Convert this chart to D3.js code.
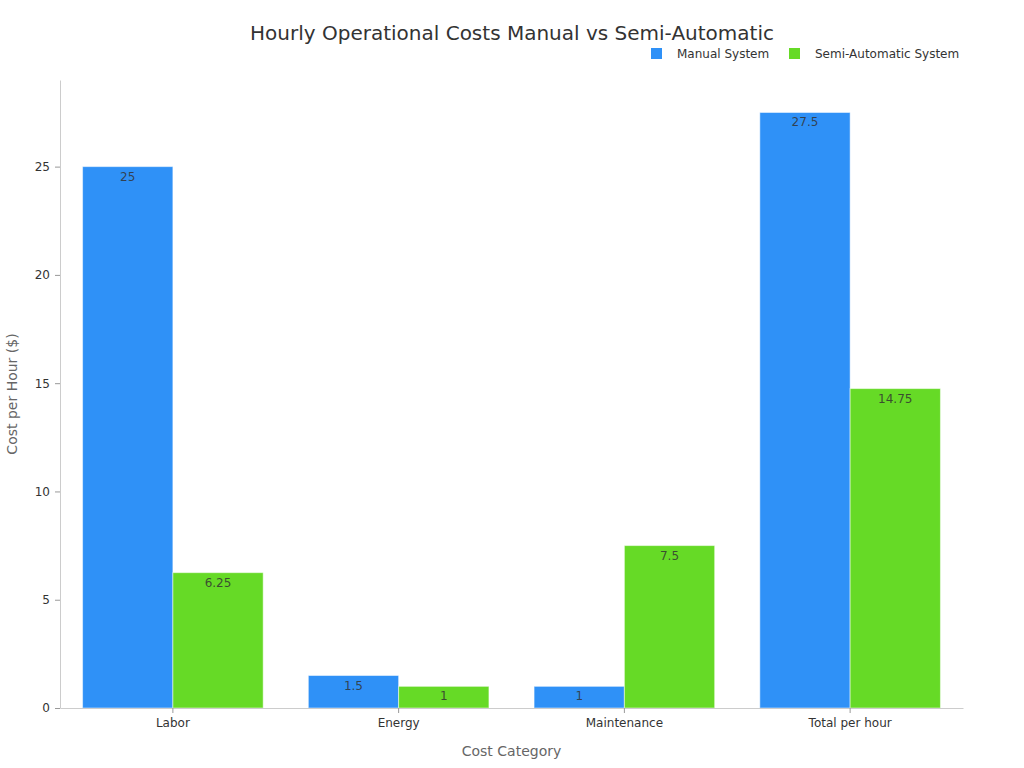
<!DOCTYPE html>
<html lang="en">
<head>
<meta charset="utf-8">
<title>Hourly Operational Costs Manual vs Semi-Automatic</title>
<script src="https://cdn.jsdelivr.net/npm/d3@7"></script>
<style>
  body { margin: 0; background: #fff; }
  text { font-family: "DejaVu Sans", sans-serif; }
</style>
</head>
<body>
<script>
const categories = ["Labor", "Energy", "Maintenance", "Total per hour"];
const seriesNames = ["Manual System", "Semi-Automatic System"];
const manualValues = [25, 1.5, 1, 27.5];
const semiValues = [6.25, 1, 7.5, 14.75];
const yTicks = [0, 5, 10, 15, 20, 25];
const colors = ["#2f91f7", "#66da26"];

const width = 1024, height = 768;
const margin = {top: 80, right: 61, bottom: 60, left: 60};

const rows = categories.map((c, i) => ({cat: c, vals: [manualValues[i], semiValues[i]]}));

const svg = d3.select("body").append("svg")
  .attr("width", width).attr("height", height);

const x = d3.scaleBand()
  .domain(categories)
  .range([margin.left, width - margin.right])
  .paddingInner(0.2)
  .paddingOuter(0.1);

const xSub = d3.scaleBand()
  .domain([0, 1])
  .range([0, x.bandwidth()]);

const y = d3.scaleLinear()
  .domain([0, 29])
  .range([height - margin.bottom, margin.top]);

// bars
const groups = svg.append("g").selectAll("g")
  .data(rows).enter().append("g")
  .attr("transform", d => "translate(" + x(d.cat) + ",0)");

groups.selectAll("rect")
  .data(d => d.vals.map((v, i) => ({v, i})))
  .enter().append("rect")
  .attr("x", d => xSub(d.i))
  .attr("y", d => y(d.v))
  .attr("width", xSub.bandwidth())
  .attr("height", d => y(0) - y(d.v))
  .attr("fill", d => colors[d.i])
  .attr("stroke", "rgba(255,255,255,0.5)")
  .attr("stroke-width", 1);

groups.selectAll("text")
  .data(d => d.vals.map((v, i) => ({v, i})))
  .enter().append("text")
  .attr("x", d => xSub(d.i) + xSub.bandwidth() / 2)
  .attr("y", d => y(d.v) + 14)
  .attr("text-anchor", "middle")
  .attr("font-size", "12px")
  .attr("fill", "#333")
  .attr("fill-opacity", 0.85)
  .text(d => d.v);

// axes
const xAxis = svg.append("g")
  .attr("transform", "translate(0," + y(0) + ")")
  .call(d3.axisBottom(x).tickSize(5).tickPadding(5).tickSizeOuter(0));
xAxis.select(".domain").attr("stroke", "#ccc");
xAxis.selectAll(".tick line").attr("stroke", "#999");
xAxis.selectAll(".tick text").attr("font-size", "12px").attr("fill", "#333")
  .attr("font-family", "DejaVu Sans, sans-serif");

const yAxis = svg.append("g")
  .attr("transform", "translate(" + margin.left + ",0)")
  .call(d3.axisLeft(y).tickValues(yTicks).tickSize(5).tickPadding(5).tickSizeOuter(0));
yAxis.select(".domain").attr("stroke", "#ccc");
yAxis.selectAll(".tick line").attr("stroke", "#999");
yAxis.selectAll(".tick text").attr("font-size", "12px").attr("fill", "#333")
  .attr("font-family", "DejaVu Sans, sans-serif");

// axis titles
svg.append("text")
  .attr("x", (margin.left + width - margin.right) / 2)
  .attr("y", 756)
  .attr("text-anchor", "middle")
  .attr("font-size", "14px")
  .attr("fill", "#666")
  .text("Cost Category");

svg.append("text")
  .attr("transform", "translate(17," + (margin.top + height - margin.bottom) / 2 + ") rotate(-90)")
  .attr("text-anchor", "middle")
  .attr("font-size", "14px")
  .attr("fill", "#666")
  .text("Cost per Hour ($)");

// title
svg.append("text")
  .attr("x", 512)
  .attr("y", 40)
  .attr("text-anchor", "middle")
  .attr("font-size", "20px")
  .attr("fill", "#333")
  .text("Hourly Operational Costs Manual vs Semi-Automatic");

// legend
const legendX = [651, 789];
const legend = svg.append("g").selectAll("g")
  .data(seriesNames).enter().append("g")
  .attr("transform", (d, i) => "translate(" + legendX[i] + ",48)");
legend.append("rect")
  .attr("width", 11).attr("height", 11)
  .attr("fill", (d, i) => colors[i]);
legend.append("text")
  .attr("x", 26).attr("y", 10)
  .attr("font-size", "12px")
  .attr("fill", "#333")
  .text(d => d);
</script>
</body>
</html>
